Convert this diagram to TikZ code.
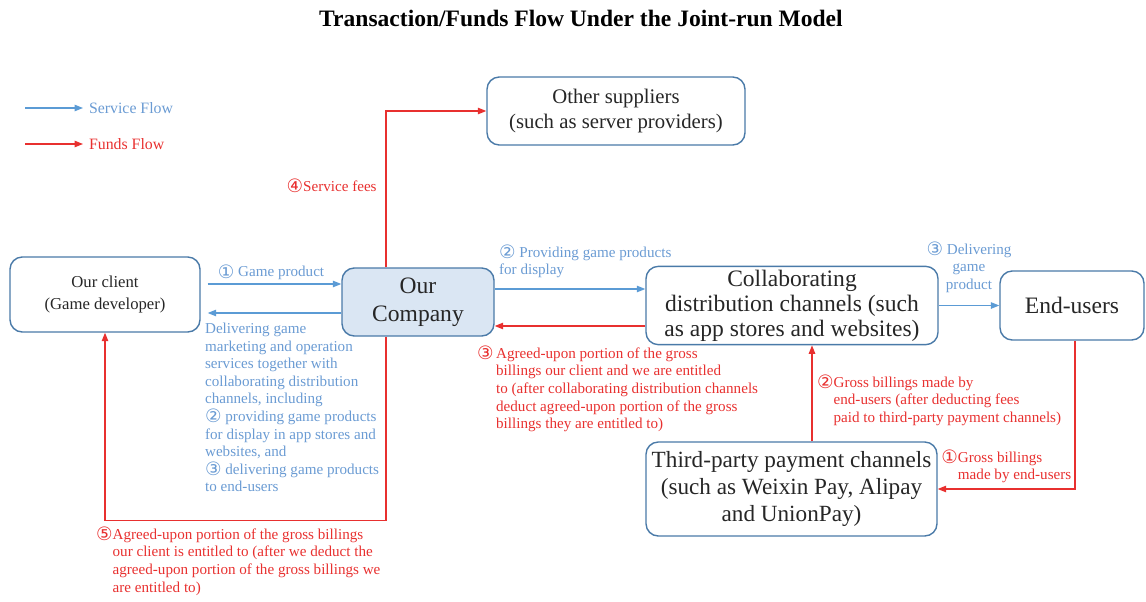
\documentclass[tikz,border=0pt]{standalone}
\usepackage{fontspec}
\setmainfont{Liberation Serif}
\newfontfamily\circfont{DejaVu Sans}
\usetikzlibrary{arrows.meta,positioning,calc}
\definecolor{jrline}{HTML}{4A7AA8}
\definecolor{jrfill}{HTML}{DAE6F3}
\definecolor{jrblue}{HTML}{5B9BD5}
\definecolor{jrbluet}{HTML}{6A9BD3}
\definecolor{jrred}{HTML}{E8302F}
\definecolor{jrtext}{HTML}{262626}
\newcommand{\cnum}[1]{{\circfont\fontsize{10.5}{10}\selectfont\raisebox{-0.15ex}{#1}}}
\newcommand{\hangitem}[2]{\cnum{#1}\begin{tabular}[t]{@{}l@{}}#2\end{tabular}}
\tikzset{
  entity/.style  = {draw=jrline, line width=0.8pt, rounded corners=7pt,
                    align=center, inner sep=2pt, text=jrtext},
  hub/.style     = {entity, fill=jrfill},
  service/.style = {-{Triangle[length=1.7mm,width=1.3mm]}, draw=jrblue,
                    line width=0.7pt},
  funds/.style   = {-{Triangle[length=1.7mm,width=1.3mm]}, draw=jrred,
                    line width=0.7pt},
  lbl/.style     = {font=\fontsize{8.6}{10}\selectfont, align=left, inner sep=1pt},
  lblsvc/.style  = {lbl, text=jrbluet},
  lblfund/.style = {lbl, text=jrred},
  legend/.style  = {font=\fontsize{9}{11}\selectfont, inner sep=1pt, anchor=west},
}
\begin{document}
\begin{tikzpicture}
  \useasboundingbox (0,0) rectangle (22.92,-12.04);

  % ---------- title and legend ------------------------------------------
  \node[font=\fontsize{13.4}{15}\selectfont\bfseries] (title) at (11.62,-0.36)
    {Transaction/Funds Flow Under the Joint-run Model};
  \coordinate (legs) at (0.5,-2.16);
  \coordinate (legf) at (0.5,-2.88);
  \node[legend, text=jrbluet] (legsvc) at (1.74,-2.16) {Service Flow};
  \node[legend, text=jrred]   (legfnd) at (1.74,-2.88) {Funds Flow};
  \draw[service] (legs) -- ([xshift=-0.08cm]legsvc.west);
  \draw[funds]   (legf) -- ([xshift=-0.08cm]legfnd.west);

  % ---------- parties -----------------------------------------------------
  \node[entity, minimum width=3.8cm, minimum height=1.5cm,
        font=\fontsize{9.5}{12}\selectfont] (client) at (2.1,-5.89)
    {Our client\\ (Game developer)};
  \node[hub, minimum width=3.04cm, minimum height=1.36cm,
        font=\fontsize{13.4}{16}\selectfont] (company) at (8.36,-6.04)
    {Our\\ Company};
  \node[entity, minimum width=5.16cm, minimum height=1.36cm,
        font=\fontsize{11.8}{14.5}\selectfont] (supp) at (12.32,-2.22)
    {Other suppliers\\ (such as server providers)};
  \node[entity, minimum width=5.84cm, minimum height=1.46cm,
        font=\fontsize{13.4}{14.2}\selectfont] (chan) at (15.84,-6.11)
    {Collaborating\\ distribution channels (such\\ as app stores and websites)};
  \node[entity, minimum width=2.88cm, minimum height=1.38cm,
        font=\fontsize{13.4}{15}\selectfont] (users) at (21.44,-6.11)
    {End-users};
  \node[entity, minimum width=5.82cm, minimum height=1.88cm,
        font=\fontsize{13.2}{15.5}\selectfont] (pay) at (15.83,-9.78)
    {Third-party payment channels\\ (such as Weixin Pay, Alipay\\ and UnionPay)};

  % ---------- service flows -------------------------------------------------
  \draw[service, shorten <=0.14cm] ([yshift=0.21cm]client.east)
    -- node[lblsvc, above=1pt, midway] {\cnum{①} Game product}
    ([yshift=0.36cm]company.west);
  \draw[service, shorten >=0.14cm] ([yshift=-0.22cm]company.west)
    -- ([yshift=-0.22cm]company.west -| client.east);
  \node[lblsvc, anchor=north west] (svclbl) at (4.06,-6.42)
    {Delivering game\\ marketing and operation\\ services together with\\
     collaborating distribution\\ channels, including\\
     \cnum{②} providing game products\\ for display in app stores and\\
     websites, and\\ \cnum{③} delivering game products\\ to end-users};
  \draw[service] ([yshift=0.26cm]company.east)
    -- ([yshift=0.26cm]company.east -| chan.west);
  \node[lblsvc, anchor=north west] (displbl) at (9.94,-4.86)
    {\cnum{②} Providing game products\\ for display};
  \draw[service] (chan.east) -- node[lblsvc, align=center, above=6pt, midway]
    {\cnum{③} Delivering\\ game\\ product} (chan.east -| users.west);

  % ---------- funds flows ---------------------------------------------------
  \draw[funds] ([xshift=-0.64cm]company.north) |- node[lblfund, pos=0.26, left=4pt]
    {\cnum{④}Service fees} (supp.west);
  \draw[funds] ([xshift=-0.64cm]company.south) -- ++(0,-3.68) -| (client.south);
  \node[lblfund, anchor=north west] (cltlbl) at (1.88,-10.5)
    {\hangitem{⑤}{Agreed-upon portion of the gross billings\\
     our client is entitled to (after we deduct the\\
     agreed-upon portion of the gross billings we\\ are entitled to)}};
  \draw[funds] ([yshift=-0.48cm]company.east -| chan.west)
    -- ([yshift=-0.48cm]company.east);
  \node[lblfund, anchor=north west] (sharelbl) at (9.5,-6.88)
    {\cnum{③}\,\begin{tabular}[t]{@{}l@{}}Agreed-upon portion of the gross\\
     billings our client and we are entitled\\
     to (after collaborating distribution channels\\
     deduct agreed-upon portion of the gross\\
     billings they are entitled to)\end{tabular}};
  \draw[funds] ([xshift=0.41cm]pay.north) -- ([xshift=0.41cm]pay.north |- chan.south);
  \node[lblfund, anchor=north west] (netlbl) at (16.3,-7.46)
    {\hangitem{②}{Gross billings made by\\ end-users (after deducting fees\\
     paid to third-party payment channels)}};
  \draw[funds] ([xshift=0.06cm]users.south) |- node[lblfund, pos=0.75, above=1pt]
    {\hangitem{①}{Gross billings\\ made by end-users}} (pay.east);

\end{tikzpicture}
\end{document}
